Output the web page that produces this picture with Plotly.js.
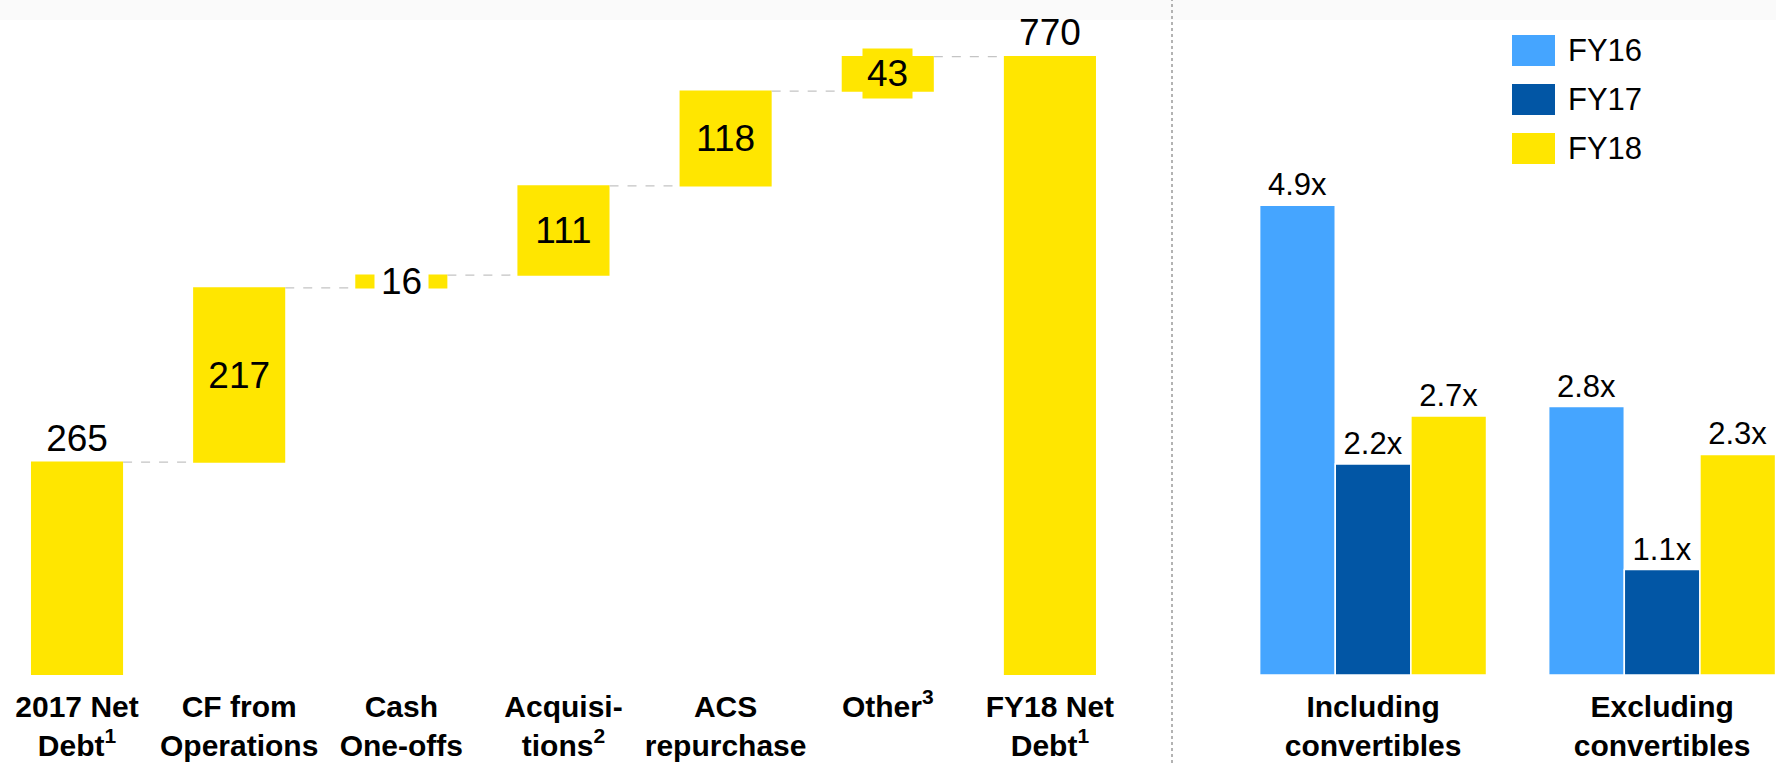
<!DOCTYPE html>
<html>
<head>
<meta charset="utf-8">
<script src="https://cdn.plot.ly/plotly-3.0.1.min.js"></script>
<style>html,body{margin:0;padding:0;background:#fff;}#chart{width:1776px;height:763px;}</style>
</head>
<body>
<div id="chart"></div>
<script>
// ---- Waterfall data (net debt bridge) ----
const steps = ['2017 Net<br>Debt<sup>1</sup>', 'CF from<br>Operations', 'Cash<br>One-offs', 'Acquisi-<br>tions<sup>2</sup>', 'ACS<br>repurchase', 'Other<sup>3</sup>', 'FY18 Net<br>Debt<sup>1</sup>'];
const stepValues = [265, 217, 16, 111, 118, 43, 770];
const stepMeasures = ['absolute', 'relative', 'relative', 'relative', 'relative', 'relative', 'total'];
const stepTextPos = ['outside', 'inside', 'none', 'inside', 'inside', 'none', 'outside'];
// labels drawn as boxed annotations (index: background colour)
const boxedLabels = {2: '#ffffff', 5: '#FFE600'};

// ---- Leverage data ----
const groups = ['Including<br>convertibles', 'Excluding<br>convertibles'];
const seriesNames = ['FY16', 'FY17', 'FY18'];
const fy16 = [4.9, 2.8];
const fy17 = [2.2, 1.1];
const fy18 = [2.7, 2.3];
const seriesColors = ['#45A5FF', '#0256A5', '#FFE600'];

const FONT = 'Liberation Sans, Arial, sans-serif';
const YELLOW = '#FFE600';
const W = 1776, H = 763, PB = 88, PH = H - PB;

const traces = [];
traces.push({
  type: 'waterfall',
  x: steps,
  y: stepValues,
  measure: stepMeasures,
  text: stepValues.map(v => String(v)),
  textposition: stepTextPos,
  insidetextanchor: 'middle',
  textfont: {family: FONT, size: 37, color: '#000'},
  insidetextfont: {family: FONT, size: 37, color: '#000'},
  outsidetextfont: {family: FONT, size: 37, color: '#000'},
  constraintext: 'none',
  cliponaxis: false,
  increasing: {marker: {color: YELLOW}},
  decreasing: {marker: {color: YELLOW}},
  totals: {marker: {color: YELLOW}},
  connector: {line: {color: '#c4c4c4', width: 1.3, dash: 'dash'}},
  xaxis: 'x', yaxis: 'y',
  hoverinfo: 'skip',
  showlegend: false
});

const seriesVals = [fy16, fy17, fy18];
seriesVals.forEach((vals, i) => {
  traces.push({
    type: 'bar',
    name: seriesNames[i],
    x: groups,
    y: vals,
    text: vals.map(v => v.toFixed(1) + 'x'),
    textposition: 'outside',
    textfont: {family: FONT, size: 31, color: '#000'},
    cliponaxis: false,
    marker: {color: seriesColors[i], line: {color: '#ffffff', width: 1.5}},
    xaxis: 'x2', yaxis: 'y2',
    hoverinfo: 'skip',
    showlegend: false
  });
});

// annotations for boxed labels
const annotations = [];
let running = 0;
stepValues.forEach((v, i) => {
  let base, top;
  if (stepMeasures[i] === 'absolute') { base = 0; top = v; running = v; }
  else if (stepMeasures[i] === 'total') { base = 0; top = running; }
  else { base = running; top = running + v; running = top; }
  if (boxedLabels[i] !== undefined) {
    annotations.push({
      xref: 'x', yref: 'y', x: steps[i], y: (base + top) / 2,
      text: String(v), showarrow: false,
      font: {family: FONT, size: 37, color: '#000'},
      bgcolor: boxedLabels[i], borderpad: i === 2 ? 6 : 4
    });
  }
});

// manual legend (large square swatches)
const shapes = [];
const legX0 = 1512, legW = 43, legH = 31, legY0 = 35, legStep = 49;
const px = x => x / W;
const py = y => (PH - y) / PH;
seriesNames.forEach((n, i) => {
  const y0 = legY0 + i * legStep;
  shapes.push({type: 'rect', xref: 'paper', yref: 'paper', x0: px(legX0), x1: px(legX0 + legW), y0: py(y0 + legH), y1: py(y0), fillcolor: seriesColors[i], line: {width: 0}});
  annotations.push({xref: 'paper', yref: 'paper', x: px(1566), y: py(y0 + legH / 2), xanchor: 'left', yanchor: 'middle', text: n, showarrow: false, font: {family: FONT, size: 31, color: '#000'}});
});
// top faint band
shapes.push({type: 'rect', xref: 'paper', yref: 'paper', x0: 0, x1: 1, y0: py(20), y1: py(0), fillcolor: '#fafafa', line: {width: 0}, layer: 'below'});
// divider
shapes.push({type: 'line', xref: 'paper', yref: 'paper', x0: px(1172), x1: px(1172), y0: py(H), y1: py(0), line: {color: '#9a9a9a', width: 1.5, dash: 'dot'}});

const tickFont = {family: FONT, size: 30, color: '#000', weight: 'bold'};
const layout = {
  width: W, height: H,
  margin: {l: 0, r: 0, t: 0, b: PB, pad: 0},
  paper_bgcolor: '#fff', plot_bgcolor: 'rgba(0,0,0,0)',
  showlegend: false,
  waterfallgap: 0.432,
  bargap: 0.215, bargroupgap: 0,
  barmode: 'group',
  xaxis: {domain: [0, 1131 / W], range: [-0.475, 6.5], type: 'category', showgrid: false, zeroline: false, showline: false, ticks: '', ticklabelstandoff: 11, tickfont: tickFont, fixedrange: true, automargin: false},
  yaxis: {range: [0, 840.5], visible: false, showgrid: false, zeroline: false, fixedrange: true},
  xaxis2: {domain: [1180 / W, 1], range: [-0.668, 1.394], type: 'category', anchor: 'y2', showgrid: false, zeroline: false, showline: false, ticks: '', ticklabelstandoff: 11, tickfont: tickFont, fixedrange: true, automargin: false},
  yaxis2: {range: [0, 7.04], anchor: 'x2', visible: false, showgrid: false, zeroline: false, fixedrange: true},
  annotations: annotations,
  shapes: shapes,
  font: {family: FONT}
};

Plotly.newPlot('chart', traces, layout, {displayModeBar: false, staticPlot: true});
</script>
</body>
</html>
